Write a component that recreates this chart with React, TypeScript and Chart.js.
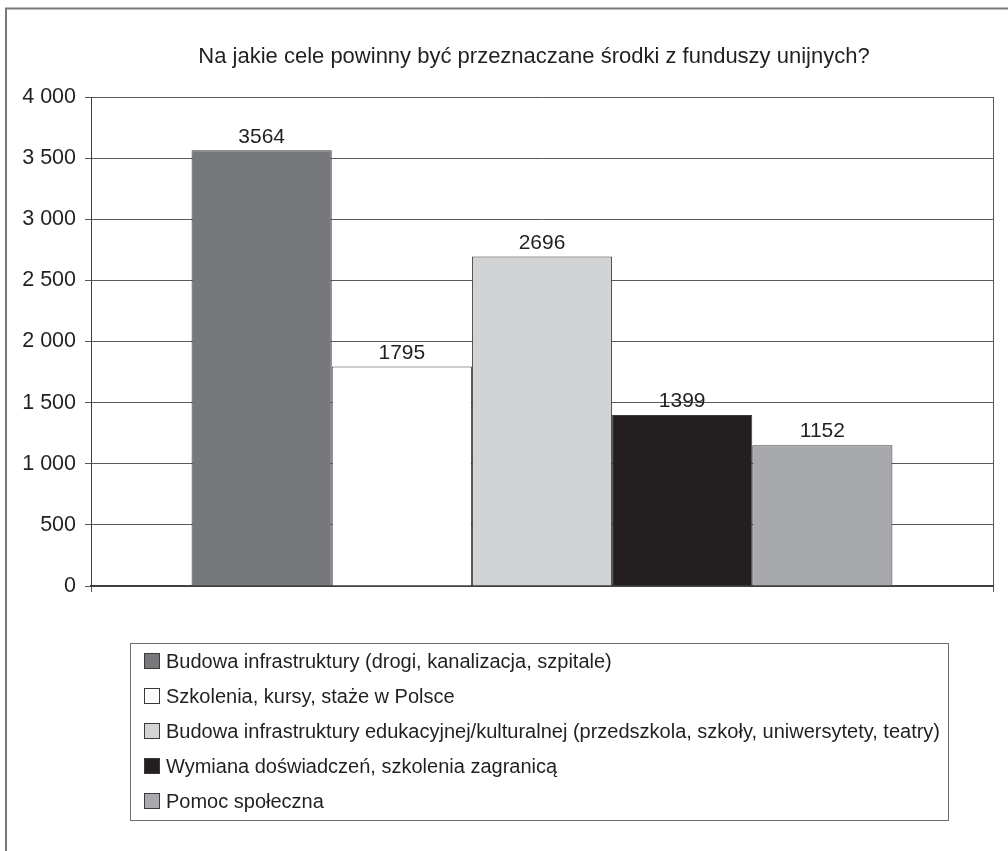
import React, { useEffect, useRef } from "react";
import { Chart, registerables } from "chart.js";

Chart.register(...registerables);

const chartTitle = "Na jakie cele powinny być przeznaczane środki z funduszy unijnych?";
const categories = [""];
const seriesNames = [
  "Budowa infrastruktury (drogi, kanalizacja, szpitale)",
  "Szkolenia, kursy, staże w Polsce",
  "Budowa infrastruktury edukacyjnej/kulturalnej (przedszkola, szkoły, uniwersytety, teatry)",
  "Wymiana doświadczeń, szkolenia zagranicą",
  "Pomoc społeczna",
];
const seriesValues = [3564, 1795, 2696, 1399, 1152];
const seriesColors = ["#77787b", "#ffffff", "#d1d3d4", "#231f20", "#a7a9ac"];
const yMin = 0;
const yMax = 4000;
const yStep = 500;

const FONT = "'Liberation Sans', Arial, sans-serif";
const TEXT = "#231f20";

const formatThousands = (v: number) =>
  String(v).replace(/\B(?=(\d{3})+(?!\d))/g, " ");

const decorPlugin = {
  id: "decor",
  beforeDraw(chart: any) {
    const ctx = chart.ctx;
    ctx.save();
    ctx.fillStyle = "#ffffff";
    ctx.fillRect(0, 0, chart.width, chart.height);
    ctx.strokeStyle = "#77787b";
    ctx.lineWidth = 2;
    ctx.strokeRect(6, 8.5, 1200, 1000);
    ctx.restore();
  },
  afterDatasetsDraw(chart: any) {
    const ctx = chart.ctx;
    ctx.save();
    ctx.font = `21px ${FONT}`;
    ctx.fillStyle = TEXT;
    ctx.textAlign = "center";
    ctx.textBaseline = "bottom";
    chart.data.datasets.forEach((ds: any, i: number) => {
      const meta = chart.getDatasetMeta(i);
      meta.data.forEach((el: any, j: number) => {
        ctx.fillText(String(ds.data[j]), el.x, el.y - 3);
      });
    });
    ctx.restore();
  },
  afterDraw(chart: any) {
    const ctx = chart.ctx;
    ctx.save();
    // title
    ctx.font = `22px ${FONT}`;
    ctx.fillStyle = TEXT;
    ctx.textAlign = "center";
    ctx.textBaseline = "middle";
    ctx.fillText(chartTitle, 534, 57);
    // legend box
    const bx = 130.5, by = 643.5, bw = 818, bh = 177;
    ctx.strokeStyle = "#6d6e71";
    ctx.lineWidth = 1;
    ctx.strokeRect(bx, by, bw, bh);
    ctx.font = `20px ${FONT}`;
    ctx.textAlign = "left";
    chart.data.datasets.forEach((ds: any, i: number) => {
      const cy = 661 + i * 35;
      ctx.fillStyle = ds.backgroundColor;
      ctx.fillRect(144, cy - 8, 16, 16);
      ctx.strokeStyle = "#3a3a3a";
      ctx.strokeRect(144.5, cy - 7.5, 15, 15);
      ctx.fillStyle = TEXT;
      ctx.fillText(ds.label, 166, cy + 1);
    });
    ctx.restore();
  },
};

export default function App() {
  const ref = useRef<HTMLCanvasElement | null>(null);
  useEffect(() => {
    if (!ref.current) return;
    const chart = new Chart(ref.current, {
      type: "bar",
      data: {
        labels: categories,
        datasets: seriesNames.map((name, i) => ({
          label: name,
          data: [seriesValues[i]],
          backgroundColor: seriesColors[i],
          borderColor: "#3a3a3a",
          borderWidth: 1,
          categoryPercentage: 0.777,
          barPercentage: 1,
        })),
      },
      options: {
        responsive: false,
        animation: false,
        devicePixelRatio: 1,
        layout: { padding: { left: 0, right: 15, top: 97, bottom: 255 } },
        plugins: {
          legend: { display: false },
          title: { display: false },
          tooltip: { enabled: false },
        },
        scales: {
          x: {
            type: "category",
            offset: true,
            grid: {
              display: true,
              offset: true,
              drawOnChartArea: true,
              color: "#58595b",
              lineWidth: 1,
              tickLength: 6,
            },
            border: { display: true, color: "#414042", width: 2 },
            ticks: { display: false },
            afterFit: (s: any) => {
              s.height = 10;
            },
          },
          y: {
            min: yMin,
            max: yMax,
            grid: { color: "#58595b", lineWidth: 1, tickLength: 6 },
            border: { display: true, color: "#414042", width: 1 },
            ticks: {
              stepSize: yStep,
              padding: 9,
              color: TEXT,
              font: { family: FONT, size: 21.5 },
              callback: (v: any) => formatThousands(Number(v)),
            },
            afterFit: (s: any) => {
              s.width = 91;
            },
          },
        },
      },
      plugins: [decorPlugin],
    });
    return () => chart.destroy();
  }, []);
  return (
    <canvas
      ref={ref}
      width={1008}
      height={851}
      style={{ position: "fixed", left: 0, top: 0, width: 1008, height: 851 }}
    />
  );
}
